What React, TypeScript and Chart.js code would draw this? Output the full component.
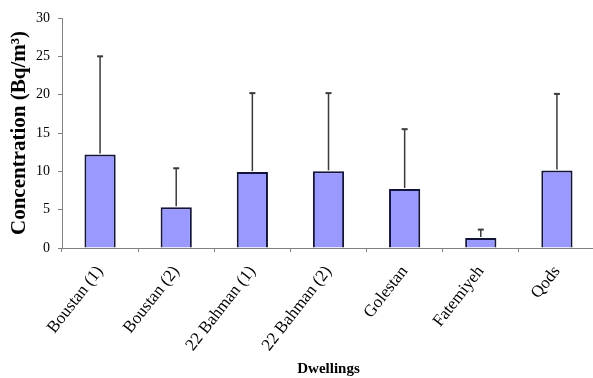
import React, { useEffect, useRef } from "react";
import { Chart, registerables } from "chart.js";

Chart.register(...registerables);

const categories = ["Boustan (1)", "Boustan (2)", "22 Bahman (1)", "22 Bahman (2)", "Golestan", "Fatemiyeh", "Qods"];
const means = [12.2, 5.3, 9.9, 10.0, 7.7, 1.3, 10.1];
const upperErrors = [25.0, 10.4, 20.2, 20.2, 15.5, 2.4, 20.1];
const yTicks = [0, 5, 10, 15, 20, 25, 30];

const SERIF = "'Liberation Serif', 'Times New Roman', serif";
const CANVAS_W = 600;
const CANVAS_H = 378;

const errorBarPlugin = {
  id: "errorBars",
  afterDatasetsDraw(chart: any) {
    const ctx = chart.ctx;
    const meta = chart.getDatasetMeta(0);
    const y = chart.scales.y;
    ctx.save();
    ctx.strokeStyle = "#3a3a3a";
    meta.data.forEach((bar: any, i: number) => {
      const top = y.getPixelForValue(upperErrors[i]);
      const base = y.getPixelForValue(means[i]);
      ctx.lineWidth = 1.5;
      ctx.beginPath();
      ctx.moveTo(bar.x, base - 1);
      ctx.lineTo(bar.x, top);
      ctx.stroke();
      ctx.lineWidth = 2;
      ctx.beginPath();
      ctx.moveTo(bar.x - 3, top);
      ctx.lineTo(bar.x + 3, top);
      ctx.stroke();
    });
    ctx.restore();
  },
};

export default function App() {
  const ref = useRef<HTMLCanvasElement>(null);
  useEffect(() => {
    if (!ref.current) return;
    const chart = new Chart(ref.current, {
      type: "bar",
      data: {
        labels: categories,
        datasets: [
          {
            data: means,
            backgroundColor: "#9999ff",
            borderColor: "#14143a",
            borderWidth: 2,
            barPercentage: 0.41,
            categoryPercentage: 1,
          },
        ],
      },
      options: {
        animation: false,
        responsive: false,
        maintainAspectRatio: false,
        layout: { padding: { left: 0, right: 5, top: 18, bottom: 0 } },
        plugins: { legend: { display: false }, tooltip: { enabled: false } },
        scales: {
          x: {
            afterFit: (scale: any) => {
              scale.height = 130;
            },
            grid: { drawOnChartArea: false, drawTicks: true, tickLength: 4, color: "#808080" },
            border: { display: true, color: "#808080", width: 1 },
            ticks: {
              color: "#000",
              font: { family: SERIF, size: 17 },
              maxRotation: 52,
              minRotation: 52,
              autoSkip: false,
              padding: 10,
            },
            title: {
              display: true,
              text: "Dwellings",
              color: "#000",
              font: { family: SERIF, size: 15, weight: "bold" },
              padding: { top: 4, bottom: 0 },
            },
          },
          y: {
            min: 0,
            max: 30,
            afterBuildTicks: (scale: any) => {
              scale.ticks = yTicks.map((v) => ({ value: v }));
            },
            afterFit: (scale: any) => {
              scale.width = 62;
            },
            grid: { drawOnChartArea: false, drawTicks: true, tickLength: 4, color: "#808080" },
            border: { display: true, color: "#808080", width: 1 },
            ticks: {
              color: "#000",
              font: { family: SERIF, size: 14 },
              padding: 8,
            },
            title: {
              display: true,
              text: "Concentration (Bq/m³)",
              color: "#000",
              font: { family: SERIF, size: 21, weight: "bold" },
              padding: { top: 7, bottom: 0 },
            },
          },
        },
      },
      plugins: [errorBarPlugin],
    } as any);
    return () => chart.destroy();
  }, []);
  return (
    <div style={{ position: "fixed", left: 0, top: 0, width: 593, height: 378, overflow: "hidden", background: "#fff" }}>
      <canvas ref={ref} width={CANVAS_W} height={CANVAS_H} style={{ width: CANVAS_W, height: CANVAS_H, display: "block" }} />
    </div>
  );
}
